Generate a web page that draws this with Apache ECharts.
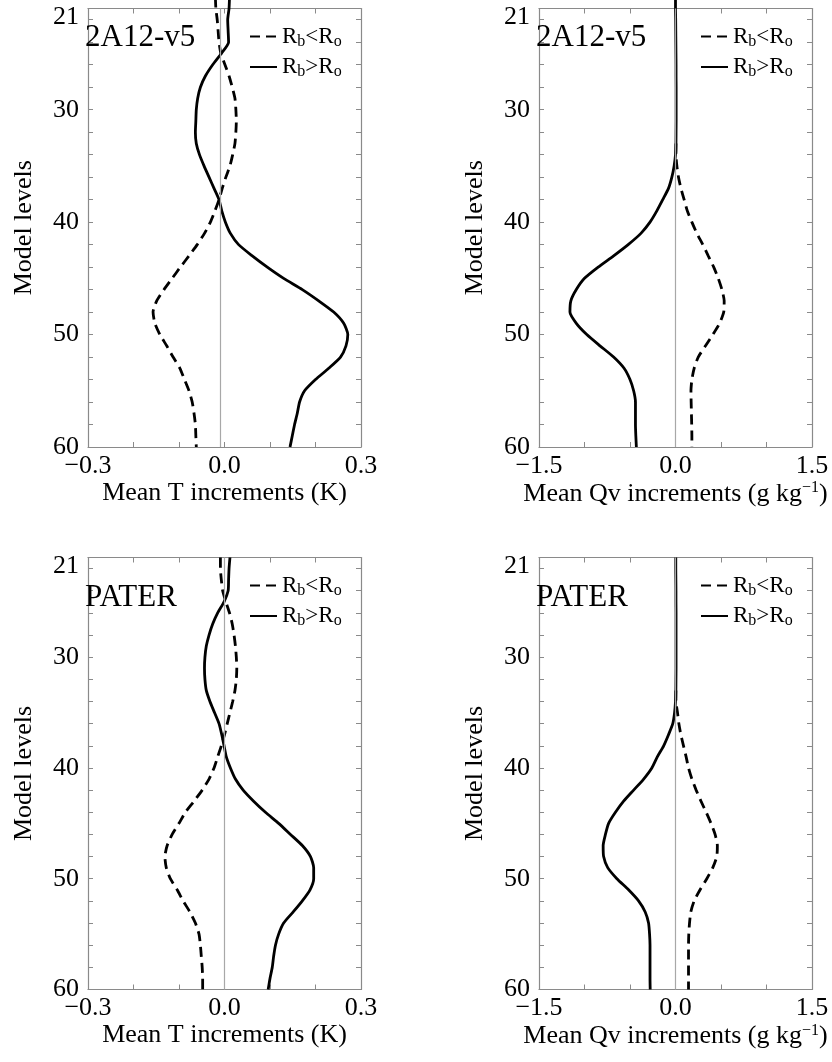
<!DOCTYPE html>
<html>
<head>
<meta charset="utf-8">
<script src="https://cdn.jsdelivr.net/npm/echarts@6/dist/echarts.min.js"></script>
<style>
  html, body { margin: 0; padding: 0; background: #fff; }
  #chart { width: 832px; height: 1062px; }
</style>
</head>
<body>
<div id="chart"></div>
<script>
// 模式层（上图多一个 20 层，越过顶框）
const levelsTop = [20, 21, 22, 23, 24, 25, 26, 27, 28, 29, 30, 31, 32, 33, 34, 35, 36, 37, 38, 39, 40,
  41, 42, 43, 44, 45, 46, 47, 48, 49, 50, 51, 52, 53, 54, 55, 56, 57, 58, 59, 60];
const levelsBottom = [21, 22, 23, 24, 25, 26, 27, 28, 29, 30, 31, 32, 33, 34, 35, 36, 37, 38, 39, 40,
  41, 42, 43, 44, 45, 46, 47, 48, 49, 50, 51, 52, 53, 54, 55, 56, 57, 58, 59, 60];
const levelsQvLow = [33, 34, 35, 36, 37, 38, 39, 40, 41, 42, 43, 44, 45, 46, 47, 48, 49, 50,
  51, 52, 53, 54, 55, 56, 57, 58, 59, 60];

// 2A12-v5, T 增量 (K)
const tLessA = [-0.020, -0.019, -0.016, -0.014, -0.012, -0.008, 0.001, 0.010, 0.017, 0.023, 0.025,
  0.026, 0.025, 0.023, 0.018, 0.012, 0.003, -0.005, -0.012, -0.021, -0.031,
  -0.044, -0.060, -0.078, -0.097, -0.115, -0.133, -0.149, -0.157, -0.153, -0.142,
  -0.127, -0.113, -0.098, -0.088, -0.078, -0.071, -0.067, -0.064, -0.063, -0.062];
const tMoreA = [0.011, 0.010, 0.007, 0.008, 0.009, -0.007, -0.026, -0.042, -0.053, -0.059, -0.062,
  -0.063, -0.064, -0.062, -0.055, -0.045, -0.034, -0.023, -0.012, -0.006, 0.002,
  0.013, 0.031, 0.061, 0.094, 0.130, 0.171, 0.207, 0.240, 0.262, 0.271,
  0.267, 0.255, 0.229, 0.200, 0.176, 0.165, 0.160, 0.154, 0.149, 0.144];

// 2A12-v5, Qv 增量 (g/kg)
const qLessA = [0.005, 0.005, 0.015, 0.033, 0.060, 0.095, 0.130, 0.180, 0.235, 0.300, 0.360, 0.420,
  0.470, 0.510, 0.535, 0.530, 0.485, 0.410, 0.330, 0.250, 0.205, 0.180, 0.170, 0.172,
  0.175, 0.178, 0.180, 0.180];
const qMoreA = [0.0, 0.0, 0.002, 0.003, 0.004, 0.005, 0.006, 0.006, 0.007, 0.007, 0.007,
  0.007, 0.006, 0.005, 0.0, -0.015, -0.040, -0.077, -0.140, -0.205, -0.280,
  -0.380, -0.520, -0.680, -0.850, -1.000, -1.090, -1.150, -1.160, -1.090, -0.975,
  -0.830, -0.680, -0.565, -0.500, -0.460, -0.440, -0.440, -0.440, -0.436, -0.430];

// PATER, T 增量 (K)
const tLessP = [-0.009, -0.009, -0.007, -0.004, 0.003, 0.011, 0.017, 0.021, 0.024, 0.026,
  0.027, 0.026, 0.023, 0.018, 0.012, 0.006, 0.000, -0.007, -0.015, -0.023,
  -0.034, -0.049, -0.067, -0.086, -0.100, -0.115, -0.126, -0.131, -0.128, -0.119,
  -0.104, -0.091, -0.076, -0.064, -0.056, -0.053, -0.051, -0.049, -0.048, -0.048];
const tMoreP = [0.012, 0.010, 0.009, 0.008, -0.001, -0.015, -0.026, -0.034, -0.040, -0.043,
  -0.044, -0.043, -0.040, -0.032, -0.022, -0.012, -0.006, -0.001, 0.004, 0.013,
  0.024, 0.041, 0.064, 0.090, 0.119, 0.145, 0.171, 0.189, 0.196, 0.196,
  0.188, 0.171, 0.151, 0.130, 0.119, 0.112, 0.108, 0.105, 0.100, 0.096];

// PATER, Qv 增量 (g/kg)
const qLessP = [0.004, 0.005, 0.022, 0.037, 0.059, 0.088, 0.117, 0.143, 0.180, 0.227, 0.280, 0.337,
  0.390, 0.435, 0.460, 0.454, 0.410, 0.344, 0.270, 0.205, 0.168, 0.154, 0.146, 0.143,
  0.143, 0.143, 0.143, 0.143];
const qMoreP = [0.003, 0.003, 0.004, 0.005, 0.005, 0.006, 0.006, 0.006, 0.006, 0.006,
  0.006, 0.005, 0.004, 0.000, -0.010, -0.030, -0.077, -0.130, -0.200, -0.260,
  -0.350, -0.460, -0.570, -0.660, -0.735, -0.770, -0.795, -0.790, -0.745, -0.644,
  -0.516, -0.406, -0.333, -0.296, -0.285, -0.280, -0.280, -0.280, -0.280, -0.278];

// 竖直参考线位置
const refLines = [-0.008, 0.0, 0.0, 0.0];

// 坐标轴刻度
const yLabelValues = [21, 30, 40, 50, 60];
const yTickValues = [22, 24, 26, 28, 30, 32, 34, 36, 38, 40, 42, 44, 46, 48, 50, 52, 54, 56, 58];
const tLabelValues = [-0.3, 0.0, 0.3];
const tTickValues = [-0.2, -0.1, 0.0, 0.1, 0.2];
const qLabelValues = [-1.5, 0.0, 1.5];
const qTickValues = [-1.0, -0.5, 0.0, 0.5, 1.0];

const panelNames = ['2A12-v5', '2A12-v5', 'PATER', 'PATER'];
const seriesNames = ['Rb<Ro', 'Rb>Ro'];

const FONT = "'Liberation Serif', 'Times New Roman', serif";
const FRAME = '#8a8a8a';

// 四个面板的位置
const panels = [
  { left: 88, top: 8.5, width: 273, height: 438.5, kind: 'T', less: tLessA, more: tMoreA, lessLv: levelsTop, moreLv: levelsTop },
  { left: 539, top: 8.5, width: 273, height: 438.5, kind: 'Q', less: qLessA, more: qMoreA, lessLv: levelsQvLow, moreLv: levelsTop },
  { left: 88, top: 557.5, width: 273, height: 432, kind: 'T', less: tLessP, more: tMoreP, lessLv: levelsBottom, moreLv: levelsBottom },
  { left: 539, top: 557.5, width: 273, height: 432, kind: 'Q', less: qLessP, more: qMoreP, lessLv: levelsQvLow, moreLv: levelsBottom }
];

const fmtX = (v) => (v < 0 ? '\u2212' : '') + Math.abs(v).toFixed(1);

const zip = (xs, ys) => xs.map((x, i) => [x, ys[i]]);

const grid = [], xAxis = [], yAxis = [], series = [], title = [], legend = [];

panels.forEach((p, i) => {
  grid.push({ left: p.left, top: p.top, width: p.width, height: p.height });

  const isT = p.kind === 'T';
  const xRange = isT ? { min: -0.3, max: 0.3 } : { min: -1.5, max: 1.5 };
  const baseX = {
    gridIndex: i,
    type: 'value',
    min: xRange.min,
    max: xRange.max,
    axisLine: { show: true, onZero: false, lineStyle: { color: FRAME, width: 1.2 } },
    axisTick: { show: true, inside: true, length: 5, customValues: isT ? tTickValues : qTickValues, lineStyle: { color: FRAME } },
    splitLine: { show: false }
  };
  xAxis.push(Object.assign({}, baseX, {
    position: 'bottom',
    axisLabel: {
      customValues: isT ? tLabelValues : qLabelValues,
      formatter: fmtX, margin: 6, color: '#000', fontFamily: FONT, fontSize: 26
    },
    name: isT ? 'Mean T increments (K)' : '{n|Mean Qv increments (g kg}{s|\u22121}{n|)}',
    nameLocation: 'middle',
    nameGap: 31,
    nameTextStyle: {
      color: '#000', fontFamily: FONT, fontSize: 26,
      rich: {
        n: { fontFamily: FONT, fontSize: 26, color: '#000' },
        s: { fontFamily: FONT, fontSize: 16, color: '#000', verticalAlign: 'top', padding: [0, 0, 12, 0] }
      }
    }
  }));
  xAxis.push(Object.assign({}, baseX, { position: 'top', axisLabel: { show: false } }));

  const baseY = {
    gridIndex: i,
    type: 'value',
    inverse: true,
    min: 21,
    max: 60,
    axisLine: { show: true, onZero: false, lineStyle: { color: FRAME, width: 1.2 } },
    axisTick: { show: true, inside: true, length: 5, customValues: yTickValues, lineStyle: { color: FRAME } },
    splitLine: { show: false }
  };
  yAxis.push(Object.assign({}, baseY, {
    position: 'left',
    axisLabel: {
      customValues: yLabelValues, margin: 9, color: '#000', fontFamily: FONT, fontSize: 26,
      lineHeight: 17,
      verticalAlignMinLabel: 'top'
    },
    name: 'Model levels',
    nameLocation: 'middle',
    nameRotate: 90,
    nameGap: 51,
    nameTextStyle: { color: '#000', fontFamily: FONT, fontSize: 26 }
  }));
  yAxis.push(Object.assign({}, baseY, { position: 'right', axisLabel: { show: false } }));

  // 零线
  series.push({
    type: 'line',
    xAxisIndex: i * 2,
    yAxisIndex: i * 2,
    data: [],
    silent: true,
    z: 1,
    markLine: {
      symbol: 'none',
      silent: true,
      animation: false,
      label: { show: false },
      lineStyle: { color: '#a8a8a8', width: 1.2, type: 'solid' },
      data: [{ xAxis: refLines[i] }]
    }
  });

  const clip = i >= 2;
  series.push({
    name: seriesNames[0],
    type: 'line',
    xAxisIndex: i * 2,
    yAxisIndex: i * 2,
    data: zip(p.less, p.lessLv),
    symbol: 'none',
    smooth: 0.2,
    clip: clip,
    z: 3,
    lineStyle: { color: '#000', width: 2.8, type: [10, 6] },
    itemStyle: { color: '#000' }
  });
  series.push({
    name: seriesNames[1],
    type: 'line',
    xAxisIndex: i * 2,
    yAxisIndex: i * 2,
    data: zip(p.more, p.moreLv),
    symbol: 'none',
    smooth: 0.2,
    clip: clip,
    z: 3,
    lineStyle: { color: '#000', width: 2.8, type: 'solid' },
    itemStyle: { color: '#000' }
  });

  const top = i < 2;
  title.push({
    text: panelNames[i],
    left: p.left - 3,
    top: top ? 22 : 582,
    padding: 0,
    textStyle: { fontFamily: FONT, fontSize: 31, fontWeight: 'normal', color: '#000' }
  });

  legend.push({
    data: seriesNames,
    orient: 'vertical',
    left: p.left + 161,
    top: top ? 25 : 574,
    padding: 0,
    itemWidth: 27,
    itemHeight: 14,
    itemGap: 6,
    selectedMode: false,
    itemStyle: { opacity: 0 },
    formatter: (name) => name === 'Rb<Ro' ? '{r|R}{s|b}{r|<R}{s|o}' : '{r|R}{s|b}{r|>R}{s|o}',
    textStyle: {
      fontFamily: FONT, fontSize: 23, color: '#000',
      rich: {
        r: { fontFamily: FONT, fontSize: 23, color: '#000', lineHeight: 26 },
        s: { fontFamily: FONT, fontSize: 16, color: '#000', verticalAlign: 'bottom', lineHeight: 16 }
      }
    }
  });
});

const chart = echarts.init(document.getElementById('chart'), null, { renderer: 'canvas' });
chart.setOption({
  animation: false,
  backgroundColor: '#fff',
  title: title,
  legend: legend,
  grid: grid,
  xAxis: xAxis,
  yAxis: yAxis,
  series: series
});
</script>
</body>
</html>
